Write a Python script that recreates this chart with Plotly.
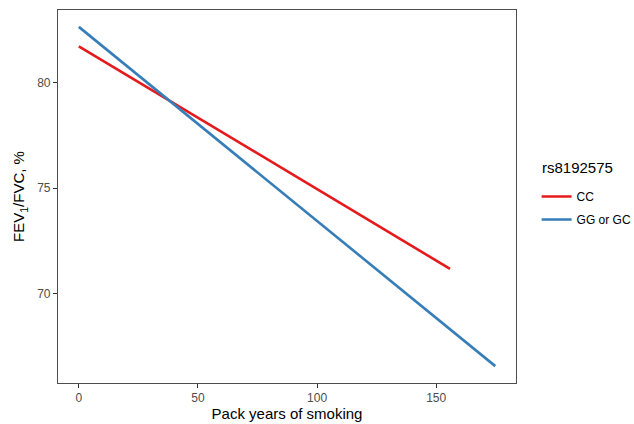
import plotly.graph_objects as go

groups = ["CC", "GG or GC"]
legend_title = "rs8192575"
x_cc = [0, 155.8]
y_cc = [81.72, 71.17]
x_gg = [0, 174.8]
y_gg = [82.64, 66.56]
colors = ["#E41A1C", "#377EB8"]
x_ticks = [0, 50, 100, 150]
y_ticks = [70, 75, 80]

fig = go.Figure()
for name, xs, ys, c in [(groups[0], x_cc, y_cc, colors[0]), (groups[1], x_gg, y_gg, colors[1])]:
    fig.add_trace(go.Scatter(x=xs, y=ys, mode="lines", name=name, legendgroup=name,
                             line=dict(color=c, width=2.6)))

axis_common = dict(showline=True, mirror=True, linecolor="#4D4D4D", linewidth=1.1,
                   ticks="outside", ticklen=4, tickcolor="#333333", tickwidth=1,
                   showgrid=False, zeroline=False, automargin=False,
                   tickfont=dict(family="Liberation Sans, Arial, sans-serif", size=12, color="#4D4D4D"))

fig.update_layout(
    width=634, height=424,
    margin=dict(l=58, r=118, t=10, b=41, autoexpand=False),
    plot_bgcolor="white", paper_bgcolor="white",
    font=dict(family="Liberation Sans, Arial, sans-serif"),
    xaxis=dict(range=[-8.74, 183.5], tickvals=x_ticks,
               title=dict(text="Pack years of smoking", standoff=4,
                          font=dict(size=15, color="black")), **axis_common),
    yaxis=dict(range=[65.76, 83.44], tickvals=y_ticks,
               title=dict(text="FEV<sub>1</sub>/FVC, %", standoff=8,
                          font=dict(size=15, color="black")), **axis_common),
    legend=dict(x=1.045, xanchor="left", y=0.469, yanchor="middle",
                font=dict(size=12, color="black"), bgcolor="rgba(0,0,0,0)",
                tracegroupgap=4, itemwidth=30),
    annotations=[dict(text=legend_title, xref="paper", yref="paper",
                      x=1.053, y=0.579, xanchor="left", yanchor="middle",
                      showarrow=False, font=dict(size=15, color="black"))],
)

fig.write_html("out.html")
